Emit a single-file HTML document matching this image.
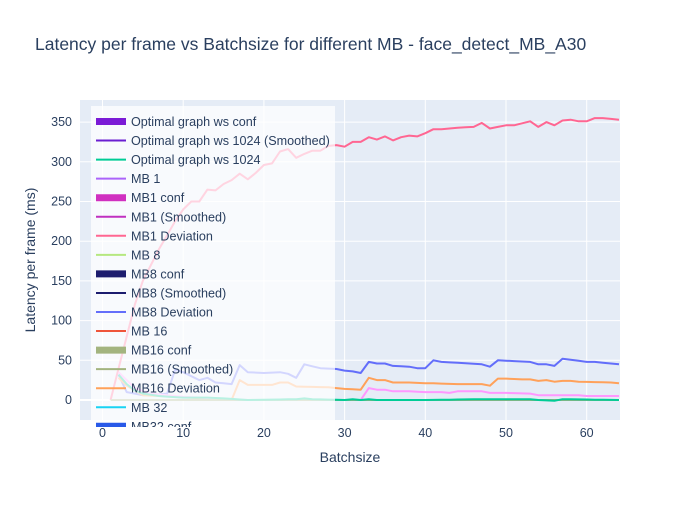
<!DOCTYPE html>
<html><head><meta charset="utf-8"><style>
body{margin:0;background:#fff}
svg text{font-family:"Liberation Sans",sans-serif;fill:#2a3f5f}
</style></head><body>
<svg id="s" width="700" height="500" xmlns="http://www.w3.org/2000/svg">
<rect width="700" height="500" fill="#fff"/>
<text x="35" y="50" font-size="17.5">Latency per frame vs Batchsize for different MB - face_detect_MB_A30</text>
<rect x="80" y="100" width="540" height="320" fill="#E5ECF6"/>
<g id="grid" stroke="#fff" stroke-width="1"></g>
<g id="lines" fill="none" stroke-width="2" stroke-linejoin="round"></g>
<defs><clipPath id="lc"><rect x="80" y="100" width="600" height="327"/></clipPath></defs>
<g clip-path="url(#lc)">
<rect x="91" y="106" width="244" height="330" fill="rgba(255,255,255,0.72)"/>
<g id="leg" font-size="12.6"></g>
</g>
<g id="ticks" font-size="12.5"></g>
<text x="350" y="462" font-size="14" text-anchor="middle">Batchsize</text>
<text transform="translate(35,260) rotate(-90)" font-size="14" text-anchor="middle">Latency per frame (ms)</text>
</svg>
<script>
const NS="http://www.w3.org/2000/svg";
const X=x=>102.5+x*8.07, Y=y=>400-y*0.794;
function el(p,t,a,txt){const e=document.createElementNS(NS,t);for(const k in a)e.setAttribute(k,a[k]);if(txt!==undefined)e.textContent=txt;document.getElementById(p).appendChild(e);return e;}
for(let v=0;v<=60;v+=10){el('grid','line',{x1:X(v),x2:X(v),y1:100,y2:420});el('ticks','text',{x:X(v),y:437,'text-anchor':'middle'},v);}
for(let v=0;v<=350;v+=50){el('grid','line',{x1:80,x2:620,y1:Y(v),y2:Y(v),'stroke-width':v==0?2:1});el('ticks','text',{x:72,y:Y(v)+4,'text-anchor':'end'},v);}
function interp(k){const xs=[],ys=[];for(let x=k[0][0];x<=64;x++){let i=0;while(i<k.length-1&&k[i+1][0]<=x)i++;let a=k[i],b=k[Math.min(i+1,k.length-1)];let y=b[0]==a[0]?a[1]:a[1]+(b[1]-a[1])*(x-a[0])/(b[0]-a[0]);xs.push(x);ys.push(y);}return xs.map((x,i)=>[x,ys[i]]);}
function line(k,c,w){const p=interp(k).map(q=>X(q[0]).toFixed(1)+','+Y(q[1]).toFixed(1)).join(' ');el('lines','polyline',{points:p,stroke:c,'stroke-width':w||2});}
line([[1,0],[2,40],[3,80],[4,120],[5,150],[7,190],[9,225],[10,240],[11,250],[12,250],[13,265],[14,264],[15,272],[16,277],[17,285],[18,278],[19,286],[20,296],[21,298],[22,313],[23,316],[24,305],[25,310],[26,314],[27,314],[28,320],[29,321],[30,319],[31,325],[32,325],[33,331],[34,328],[35,332],[36,327],[37,331],[38,333],[39,332],[40,336],[41,341],[42,341],[44,343],[46,344],[47,349],[48,342],[50,346],[51,346],[53,351],[54,344],[55,350],[56,346],[57,352],[58,353],[59,351],[60,351],[61,355],[62,355],[64,353]],'#FF6692');
line([[2,32],[3,10],[5,6],[8,8],[9,38],[10,35],[12,25],[13,28],[14,22],[16,20],[17,44],[18,35],[20,34],[22,35],[23,33],[24,28],[25,45],[27,40],[29,39],[30,37],[31,36],[32,34],[33,48],[34,46],[35,46],[36,43],[38,42],[39,40],[40,40],[41,50],[42,48],[47,45],[48,42],[49,50],[53,48],[54,45],[55,45],[56,43],[57,52],[60,48],[61,48],[64,45]],'#636EFA');
line([[2,28],[3,18],[5,6],[7,5],[16,0],[17,25],[18,19],[21,19],[22,22],[23,22],[24,17],[28,16],[29,15],[30,14],[32,13],[33,28],[34,25],[35,25],[36,22],[38,22],[40,21],[41,21],[44,20],[47,20],[48,18],[49,27],[50,27],[52,26],[53,26],[54,24],[55,25],[56,23],[57,24],[58,24],[59,23],[63,22],[64,21]],'#FFA15A');
line([[2,35],[4,15],[6,8],[10,4],[14,2],[18,0],[32,0],[33,15],[34,13],[35,13],[36,11],[38,11],[40,10],[42,10],[43,9],[44,11],[47,11],[48,9],[50,9],[53,8],[54,6],[59,6],[60,5],[64,5]],'#FF97FF');
line([[1,0],[64,0]],'#a0b080');
line([[2,32],[3,20],[4,12],[5,8],[7,5],[10,3],[13,3],[15,2],[18,0],[24,1],[25,2],[26,1],[30,0],[31,1],[32,0],[33,1],[34,0],[40,0],[47,1],[48,1],[53,1],[54,0],[56,-1],[57,1],[64,0]],'#00CC96');
const L=[["Optimal graph ws conf","#7B1BD6",7],["Optimal graph ws 1024 (Smoothed)","#6A1FD1",2],["Optimal graph ws 1024","#00CC96",2],["MB 1","#AB63FA",2],["MB1 conf","#D030C0",7],["MB1 (Smoothed)","#C030C0",2],["MB1 Deviation","#FF6692",2],["MB 8","#B6E880",2],["MB8 conf","#1C1C6E",7],["MB8 (Smoothed)","#1C1C6E",2],["MB8 Deviation","#636EFA",2],["MB 16","#EF553B",2],["MB16 conf","#A3B47F",7],["MB16 (Smoothed)","#A3B47F",2],["MB16 Deviation","#FFA15A",2],["MB 32","#19D3F3",2],["MB32 conf","#2A5AE8",7]];
L.forEach((l,i)=>{const y=121.5+i*19.05;el('leg','line',{x1:96,x2:126,y1:y,y2:y,stroke:l[1],'stroke-width':l[2]});el('leg','text',{x:131,y:y+4.5},l[0]);});
</script>
</body></html>
